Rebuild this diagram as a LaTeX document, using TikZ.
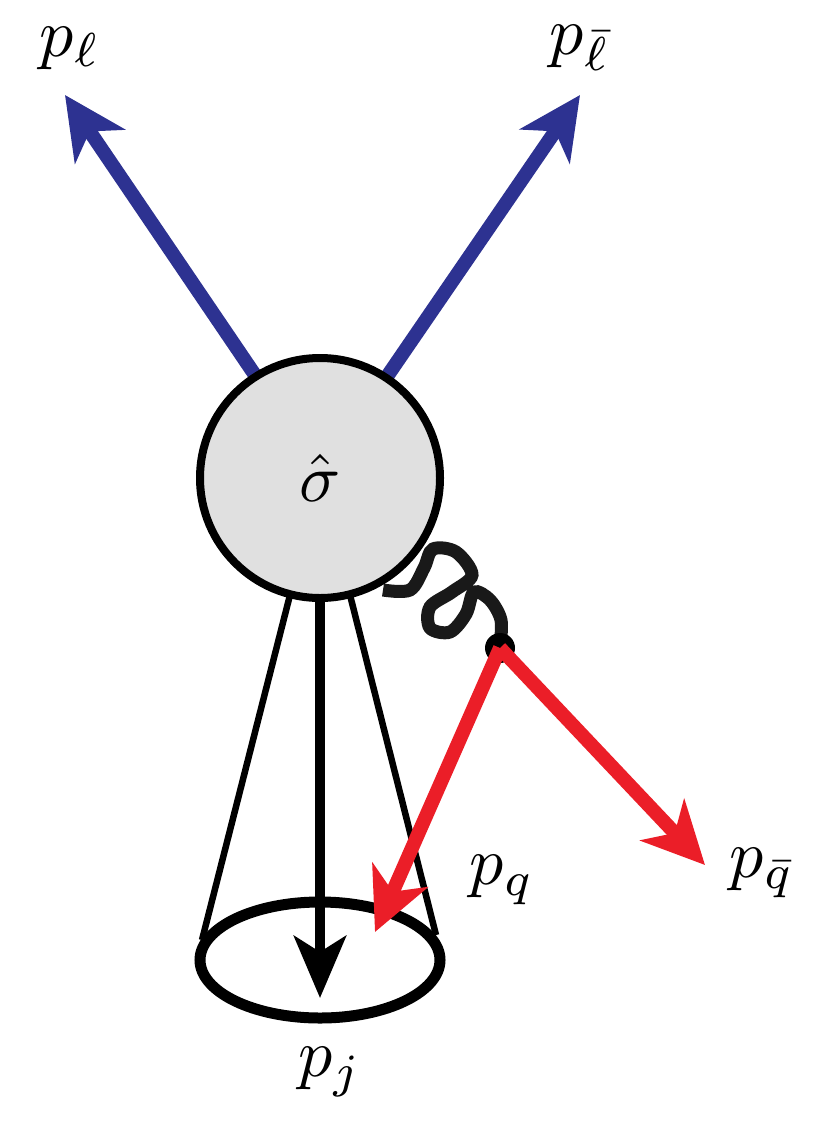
\documentclass[tikz,border=0pt]{standalone}
\usepackage{amsmath,graphicx}
\usetikzlibrary{arrows.meta,decorations.pathmorphing}
\definecolor{lblue}{RGB}{45,50,145}
\definecolor{lred}{RGB}{235,30,40}
\definecolor{blobgray}{RGB}{224,224,224}
\tikzset{
  lep/.style={lblue,line width=14pt,-{Stealth[length=62pt,width=60pt,inset=18pt]}},
  qk/.style={lred,line width=14pt,-{Stealth[length=62pt,width=60pt,inset=18pt]}},
  jet/.style={black,line width=10pt,-{Stealth[length=62pt,width=52pt,inset=16pt]}},
}
\newcommand{\bigmath}[1]{\scalebox{6.8}{$#1$}}
\begin{document}
\begin{tikzpicture}[x=1pt,y=-1pt]
\useasboundingbox (0,0) rectangle (830,1145);
% cone
\draw[line width=6.5pt] (290,595) -- (202,940);
\draw[line width=6.5pt] (350,595) -- (436,935);
\draw[line width=11pt] (320,960) ellipse [x radius=120, y radius=58];
\coordinate (jt) at (320,600);
\coordinate (jh) at (320,998);
\draw[jet] (jt) -- (jh);
% leptons
\coordinate (l1s) at (257,378);
\coordinate (l1e) at (65,95);
\coordinate (l2s) at (386,378);
\coordinate (l2e) at (580,95);
\draw[lep] (l1s) -- (l1e);
\draw[lep] (l2s) -- (l2e);
% gluon
\coordinate (v) at (500,648);
\draw[line width=13pt,black!90] plot[smooth,tension=0.55] coordinates {(383,590) (410,590) (424,568) (433,549) (456,552) (472,575) (452,592) (430,607) (430,628) (450,632) (466,614) (474,592) (490,600) (501,620) (500,645)};
% blob
\node[circle,draw,line width=8pt,fill=blobgray,minimum size=240pt,inner sep=0] (blob) at (320,478) {};
\node (sig) at (320,478) {\bigmath{\hat\sigma}};
\fill (v) circle (15pt);
% quarks
\coordinate (qe) at (375,932);
\coordinate (qbe) at (705,865);
\draw[qk] (v) -- (qe);
\draw[qk] (v) -- (qbe);
% labels
\node (pl) at (70,48) {\bigmath{p_\ell}};
\node (plb) at (580,48) {\bigmath{p_{\bar\ell}}};
\node (pq) at (502,880) {\bigmath{p_q}};
\node (pqb) at (762,873) {\bigmath{p_{\bar q}}};
\node (pj) at (330,1072) {\bigmath{p_j}};
\end{tikzpicture}
\end{document}
